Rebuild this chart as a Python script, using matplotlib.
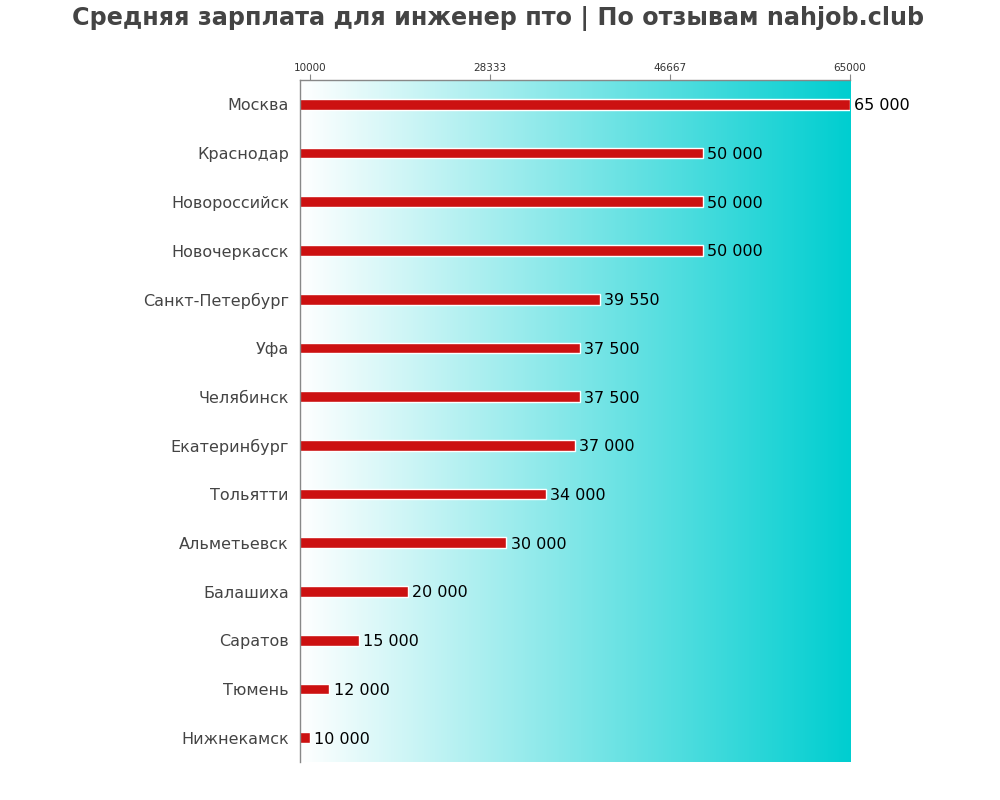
import matplotlib
matplotlib.use("Agg")
import matplotlib.pyplot as plt
import numpy as np
from matplotlib.colors import LinearSegmentedColormap
from matplotlib.transforms import ScaledTranslation

cities = ["Москва", "Краснодар", "Новороссийск", "Новочеркасск", "Санкт-Петербург",
          "Уфа", "Челябинск", "Екатеринбург", "Тольятти", "Альметьевск",
          "Балашиха", "Саратов", "Тюмень", "Нижнекамск"]
salaries = [65000, 50000, 50000, 50000, 39550, 37500, 37500, 37000, 34000, 30000,
            20000, 15000, 12000, 10000]
tick_values = [10000, 28333, 46667, 65000]
title = "Средняя зарплата для инженер пто | По отзывам nahjob.club"

plt.rcParams['font.family'] = ['DejaVu Sans']

fig = plt.figure(figsize=(10, 8), dpi=100)
ax = fig.add_axes([0.3, 0.0475, 0.55, 0.8525])

xmin, xmax = 9000, 65000
n = len(cities)
y = np.arange(n)

# gradient background
cmap = LinearSegmentedColormap.from_list("g", ["#ffffff", "#00ced0"])
grad = np.linspace(0, 1, 256).reshape(1, -1)
ax.imshow(grad, aspect="auto", cmap=cmap, extent=[xmin, xmax, n - 0.5, -0.5],
          zorder=0, interpolation="bicubic")

ax.barh(y, salaries, height=0.22, color="#cc1111", edgecolor="white",
        linewidth=1, zorder=2)

for yi, v in zip(y, salaries):
    ax.text(v + 450, yi + 0.03, f"{v:,}".replace(",", " "), va="center", ha="left",
            fontsize=11.5, color="black", zorder=3)

ax.set_xlim(xmin, xmax)
ax.set_ylim(n - 0.5, -0.5)
ax.set_yticks(y)
ax.set_yticklabels(cities, fontsize=11.5, color="#444444")
offset = ScaledTranslation(0, 1.5 / 72, fig.dpi_scale_trans)
for lbl in ax.get_yticklabels():
    lbl.set_transform(lbl.get_transform() + offset)
ax.tick_params(axis="y", length=0, pad=8)
ax.xaxis.tick_top()
ax.set_xticks(np.linspace(10000, 65000, 4))
ax.set_xticklabels([str(t) for t in tick_values], fontsize=7.5, color="#333333")
ax.tick_params(axis="x", length=4, color="#888888", pad=1)

for s in ["right", "bottom"]:
    ax.spines[s].set_visible(False)
for s in ["top", "left"]:
    ax.spines[s].set_color("#888888")
    ax.spines[s].set_linewidth(1)

fig.text(0.498, 0.992, title, ha="center", va="top", fontsize=17.2, fontweight="bold",
         color="#444444")

fig.savefig("out.png", dpi=100)
